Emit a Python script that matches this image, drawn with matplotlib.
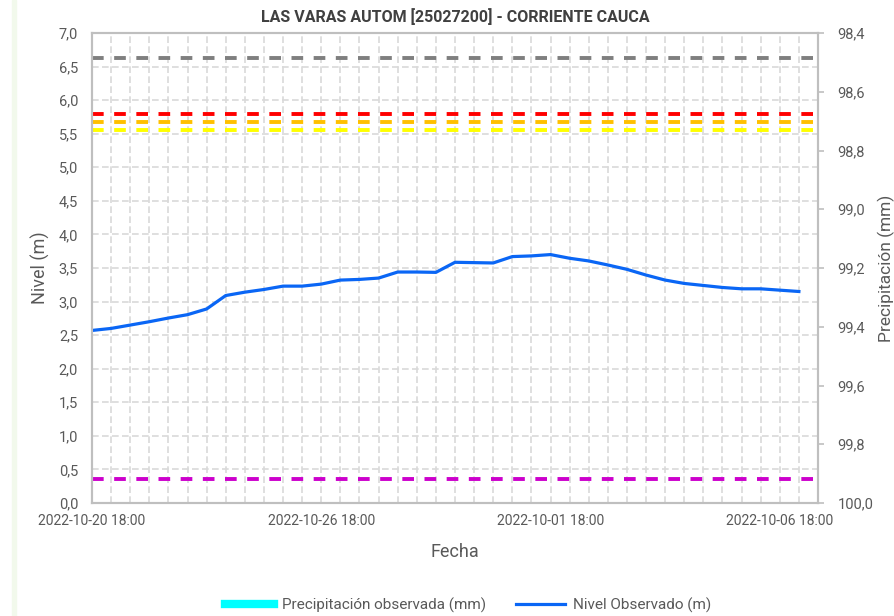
import matplotlib
matplotlib.use("Agg")
import matplotlib.pyplot as plt
from matplotlib.lines import Line2D
from matplotlib.patches import Rectangle

plt.rcParams['font.family'] = ['Roboto', 'DejaVu Sans']

# nivel observado (m), one value every 12 h
nivel = [2.57, 2.60, 2.65, 2.70, 2.755, 2.805, 2.89, 3.09, 3.14, 3.18,
         3.23, 3.23, 3.26, 3.32, 3.33, 3.35, 3.44, 3.44, 3.435, 3.585,
         3.58, 3.575, 3.67, 3.68, 3.70, 3.645, 3.605, 3.545, 3.48, 3.395,
         3.32, 3.27, 3.24, 3.21, 3.19, 3.19, 3.17, 3.15]
n_cat = 39

# umbrales
umbral_vals = [6.63, 5.79, 5.675, 5.555, 0.36]
umbral_cols = ['#7f7f7f', '#ff0000', '#ffc000', '#ffff00', '#cc00cc']

tick_pos = [0, 12, 24, 36]
tick_labels = ["2022-10-20 18:00", "2022-10-26 18:00", "2022-10-01 18:00", "2022-10-06 18:00"]

left_ticks = [0.0, 0.5, 1.0, 1.5, 2.0, 2.5, 3.0, 3.5, 4.0, 4.5, 5.0, 5.5, 6.0, 6.5, 7.0]
right_ticks = [98.4, 98.6, 98.8, 99.0, 99.2, 99.4, 99.6, 99.8, 100.0]

txt = '#595959'
spine_c = '#bfbfbf'

fig = plt.figure(figsize=(8.95, 6.16), dpi=100)
fig.patches.append(Rectangle((12 / 895, 0), 4 / 895, 1, transform=fig.transFigure,
                             color='#f2f9ec', zorder=0))
ax = fig.add_axes([92 / 895, 113 / 616, 726 / 895, 470 / 616])
ax2 = ax.twinx()

# grid
for v in left_ticks[1:-1]:
    ax.axhline(v, color='#d9d9d9', lw=1.2, dashes=(4, 2), zorder=1)
for i in range(1, n_cat - 1):
    ax.axvline(i, color='#d9d9d9', lw=1.2, dashes=(4, 2), zorder=1)

for v, c in zip(umbral_vals, umbral_cols):
    ax.axhline(v, color=c, lw=2.8, dashes=(3, 2.7), zorder=2)

ax.plot(range(len(nivel)), nivel, color='#0a66f5', lw=2.3, zorder=3)

ax.set_xlim(0, n_cat - 1)
ax.set_ylim(0, 7)
ax.set_yticks(left_ticks)
ax.set_yticklabels([f"{v:.1f}".replace('.', ',') for v in left_ticks])
ax.set_xticks(tick_pos)
ax.set_xticklabels(tick_labels)
ax.tick_params(axis='y', length=0, labelsize=10.5, labelcolor=txt, pad=10)
ax.tick_params(axis='x', length=0, labelsize=10, labelcolor=txt, pad=8)

ax2.set_ylim(100.0, 98.4)
ax2.set_yticks(right_ticks)
ax2.set_yticklabels([f"{v:.1f}".replace('.', ',') for v in right_ticks])
ax2.tick_params(axis='y', length=4, width=1.2, color=spine_c, labelsize=10.5,
                labelcolor=txt, pad=10)

for a in (ax, ax2):
    for s in a.spines.values():
        s.set_color(spine_c)
        s.set_linewidth(1.5)

ax.set_ylabel("Nivel (m)", fontsize=13, color=txt, labelpad=6)
ax2.set_ylabel("Precipitación (mm)", fontsize=12.5, color=txt, labelpad=3)
ax.set_xlabel("Fecha", fontsize=13, color=txt, labelpad=11)
ax.set_title("LAS VARAS AUTOM [25027200] - CORRIENTE CAUCA", fontsize=11.5,
             fontweight='bold', color='#404040', pad=8)

handles = [Line2D([], [], color='#00ffff', lw=6),
           Line2D([], [], color='#0a66f5', lw=2.3)]
fig.legend(handles, ["Precipitación observada (mm)", "Nivel Observado (m)"],
           loc='center', bbox_to_anchor=(468 / 895, 1 - 605 / 616), ncol=2, frameon=False,
           fontsize=11, handlelength=3.2, handletextpad=0.5, columnspacing=2.0,
           labelcolor=txt)

fig.savefig("out.png", dpi=100)
